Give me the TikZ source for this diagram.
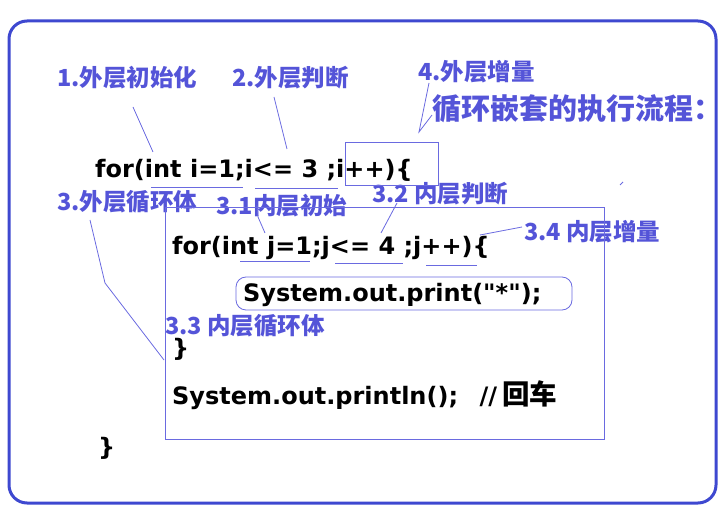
\documentclass[tikz,border=0pt]{standalone}
\usepackage{fontspec}
\setmainfont{Noto Sans CJK SC}
\newfontfamily\codefont{DejaVu Sans}
\newfontfamily\cjk{Noto Sans CJK SC}
\usetikzlibrary{positioning}
\definecolor{framebl}{HTML}{3E48D0}
\definecolor{notebl}{HTML}{5454D8}
\definecolor{linebl}{HTML}{6A6AE0}

\begin{document}
\begin{tikzpicture}[x=1pt, y=-1pt,
    note/.style={anchor=west, inner sep=0pt, text=notebl, font=\fontsize{23.5}{25}\selectfont\bfseries},
    codeln/.style={anchor=base west, inner sep=0pt, font=\codefont\fontsize{24}{26}\selectfont\bfseries},
    thinln/.style={draw=linebl, line width=0.8pt}]
    \useasboundingbox (0,0) rectangle (723,518);
    \draw[framebl, line width=3pt, rounded corners=18pt] (9,21) rectangle (716,503);

    % code
    \node[codeln] (outer) at (95,178) {for(int i=1;i<= 3 ;i++)\{};
    \node[codeln] (inner) at (172,255) {for(int j=1;j<= 4 ;j++)\{};
    \node[codeln] (body) at (243,302) {System.out.print("*");};
    \node[codeln] (innerend) at (172,357) {\}};
    \node[codeln] (newline) at (172,405) {System.out.println();\hspace{0.9em}//\hspace{5pt}{\cjk\fontsize{27.5}{29}\selectfont 回车}};
    \node[codeln] (outerend) at (98,455) {\}};

    % notes
    \node[note] (l1) at (57,78) {1.外层初始化};
    \node[note] (l2) at (232,78) {2.外层判断};
    \node[note] (l4) at (418,72) {4.外层增量};
    \node[note, font=\fontsize{29}{31}\selectfont\bfseries] (title) at (432,109) {循环嵌套的执行流程：};
    \node[note] (l3) at (57,202) {3.外层循环体};
    \node[note] (l31) at (216,206) {3.1内层初始};
    \node[note] (l32) at (372,194) {3.2 内层判断};
    \node[note] (l34) at (524,232) {3.4 内层增量};
    \node[note] (l33) at (165,326) {3.3 内层循环体};

    % boxes and underlines
    \draw[thinln] (165,207) rectangle (604,439);
    \draw[thinln] (345,142) rectangle (438,185);
    \draw[thinln, rounded corners=10pt] (236,277) rectangle (572,310);
    \draw[thinln] (151,187) -- (243,187);
    \draw[thinln] (255,188) -- (338,188);
    \draw[thinln] (240,261) -- (310,261);
    \draw[thinln] (335,263) -- (403,263);
    \draw[thinln] (426,265) -- (477,265);

    % leaders
    \coordinate (p1a) at (133,107);
    \coordinate (p1b) at (153,152);
    \coordinate (p2a) at (274,97);
    \coordinate (p2b) at (287,149);
    \coordinate (p4a) at (429,83);
    \coordinate (p4b) at (419,132);
    \coordinate (p4c) at (432,115);
    \coordinate (p3a) at (90,220);
    \coordinate (p3b) at (105,283);
    \coordinate (p3c) at (164,360);
    \coordinate (p31a) at (257,205);
    \coordinate (p31b) at (258,217);
    \coordinate (p31c) at (265,233);
    \coordinate (p32a) at (397,203);
    \coordinate (p32b) at (381,233);
    \coordinate (p34a) at (522,227);
    \coordinate (p34b) at (480,235);
    \coordinate (tka) at (620,185);
    \coordinate (tkb) at (623,182);
    \draw[thinln] (p1a) -- (p1b);
    \draw[thinln] (p2a) -- (p2b);
    \draw[thinln] (p4a) -- (p4b) -- (p4c);
    \draw[thinln] (p3a) -- (p3b) -- (p3c);
    \draw[thinln] (p31a) -- (p31b) -- (p31c);
    \draw[thinln] (p32a) -- (p32b);
    \draw[thinln] (p34a) -- (p34b);
    \draw[thinln] (tka) -- (tkb);
\end{tikzpicture}
\end{document}
